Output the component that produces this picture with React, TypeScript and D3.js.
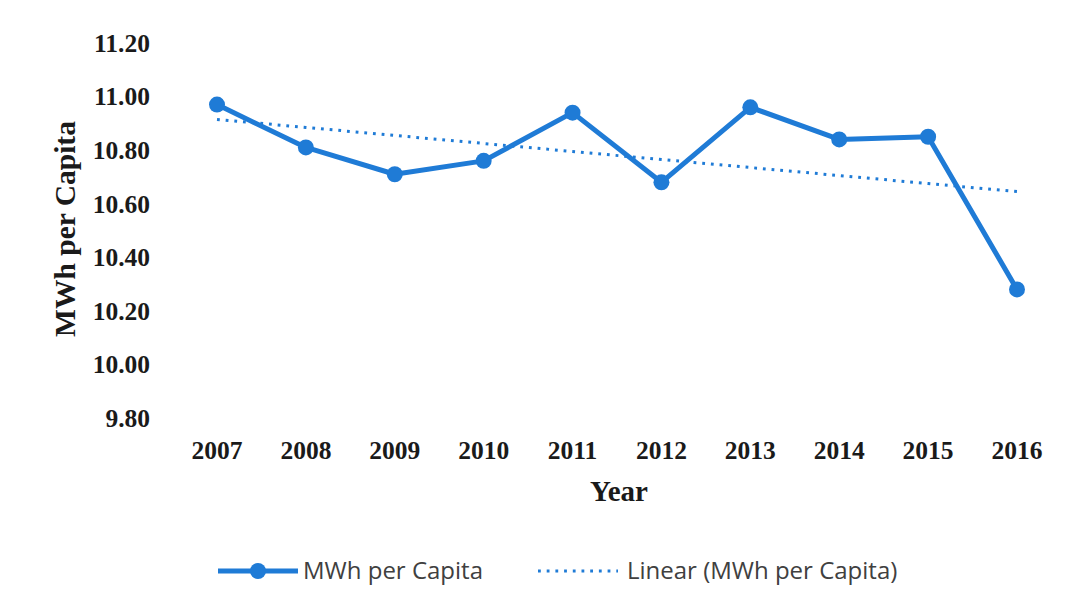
import React from "react";
import * as d3 from "d3";

const years = [2007, 2008, 2009, 2010, 2011, 2012, 2013, 2014, 2015, 2016];
const mwhPerCapita = [10.97, 10.81, 10.71, 10.76, 10.94, 10.68, 10.96, 10.84, 10.85, 10.28];
const yTicks = [9.8, 10.0, 10.2, 10.4, 10.6, 10.8, 11.0, 11.2];
const seriesName = "MWh per Capita";
const trendName = "Linear (MWh per Capita)";
const xTitle = "Year";
const yTitle = "MWh per Capita";

const W = 1085;
const H = 609;
const BLUE = "#1f7bd6";
const SERIF = "'Liberation Serif', 'Times New Roman', serif";
const SANS = "'Open Sans', 'Noto Sans', sans-serif";

export default function App() {
  const x = d3.scalePoint<number>().domain(years).range([217, 1017]);
  const y = d3.scaleLinear().domain([9.8, 11.2]).range([418, 43]);

  const line = d3
    .line<number>()
    .x((_, i) => x(years[i]) as number)
    .y((d) => y(d));

  // linear regression trendline
  const idx = years.map((_, i) => i);
  const mx = d3.mean(idx) as number;
  const my = d3.mean(mwhPerCapita) as number;
  const slope =
    (d3.sum(idx, (i) => (i - mx) * (mwhPerCapita[i] - my)) as number) /
    (d3.sum(idx, (i) => (i - mx) * (i - mx)) as number);
  const intercept = my - slope * mx;
  const trend = idx.map((i) => intercept + slope * i);

  return (
    <svg
      width={W}
      height={H}
      style={{ position: "absolute", left: 0, top: 0, background: "#fff" }}
    >
      <rect width={W} height={H} fill="#fff" />
      {yTicks.map((t) => (
        <text
          key={t}
          x={150}
          y={y(t)}
          dy="0.35em"
          textAnchor="end"
          fontFamily={SERIF}
          fontWeight="bold"
          fontSize={25.5}
          fill="#1a1a1a"
        >
          {t.toFixed(2)}
        </text>
      ))}
      {years.map((yr) => (
        <text
          key={yr}
          x={x(yr)}
          y={459}
          textAnchor="middle"
          fontFamily={SERIF}
          fontWeight="bold"
          fontSize={25.5}
          fill="#1a1a1a"
        >
          {yr}
        </text>
      ))}
      <text
        x={619}
        y={501}
        textAnchor="middle"
        fontFamily={SERIF}
        fontWeight="bold"
        fontSize={29}
        fill="#1a1a1a"
      >
        {xTitle}
      </text>
      <text
        transform="translate(75,229) rotate(-90)"
        textAnchor="middle"
        fontFamily={SERIF}
        fontWeight="bold"
        fontSize={29.5}
        fill="#1a1a1a"
      >
        {yTitle}
      </text>

      <path
        d={line(trend) || ""}
        fill="none"
        stroke={BLUE}
        strokeWidth={3}
        strokeDasharray="2.8 5.9"
      />
      <path
        d={line(mwhPerCapita) || ""}
        fill="none"
        stroke={BLUE}
        strokeWidth={5}
        strokeLinejoin="round"
      />
      {mwhPerCapita.map((v, i) => (
        <circle key={i} cx={x(years[i])} cy={y(v)} r={8} fill={BLUE} />
      ))}

      {/* legend */}
      <line x1={218} x2={298} y1={571} y2={571} stroke={BLUE} strokeWidth={5} />
      <circle cx={258} cy={571} r={8} fill={BLUE} />
      <text
        x={303}
        y={571}
        dy="0.35em"
        fontFamily={SANS}
        fontSize={24}
        fill="#404040"
      >
        {seriesName}
      </text>
      <line
        x1={538}
        x2={618}
        y1={571}
        y2={571}
        stroke={BLUE}
        strokeWidth={3}
        strokeDasharray="2.8 5.9"
      />
      <text
        x={627}
        y={571}
        dy="0.35em"
        fontFamily={SANS}
        fontSize={24}
        fill="#404040"
      >
        {trendName}
      </text>
    </svg>
  );
}
